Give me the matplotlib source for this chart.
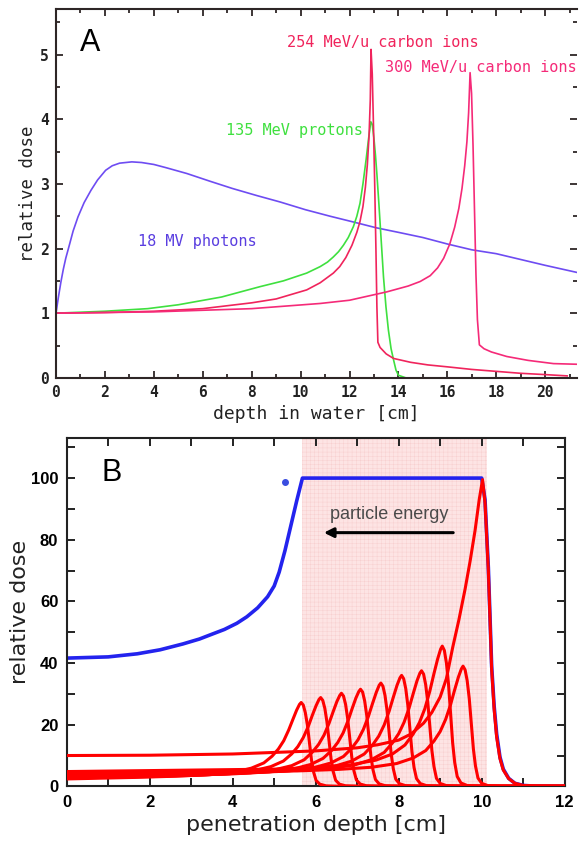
import matplotlib
matplotlib.use('Agg')
import matplotlib.pyplot as plt
from matplotlib.ticker import MultipleLocator

plt.rcParams['hatch.linewidth'] = 0.35

# ---------------- Panel A data ----------------
photon_x = [0, 0.1, 0.2, 0.3, 0.4, 0.53, 0.7, 0.9, 1.15, 1.43, 1.7, 2.03, 2.3, 2.6, 3.1, 3.5, 4.0,
            4.5, 5.35, 6.3, 7.2, 8.2, 9.16, 10.2, 11.2, 12.16, 13.1, 14, 15, 16, 17, 18, 19, 20, 21.3]
photon_y = [1.0, 1.25, 1.48, 1.68, 1.85, 2.03, 2.27, 2.49, 2.71, 2.9, 3.06, 3.21, 3.28, 3.32, 3.34, 3.33, 3.3,
            3.25, 3.16, 3.04, 2.93, 2.82, 2.72, 2.6, 2.5, 2.41, 2.32, 2.25, 2.17, 2.07, 1.98, 1.92, 1.83, 1.74, 1.63]

proton_x = [0, 2, 3.75, 5, 6.77, 8.34, 9.3, 10.25, 10.8, 11.1, 11.34, 11.55, 11.75, 11.95, 12.16, 12.3,
            12.43, 12.55, 12.68, 12.78, 12.87, 12.93, 13.0, 13.06, 13.12, 13.2, 13.3, 13.39, 13.49, 13.59,
            13.7, 13.8, 13.9, 14.0, 14.3]
proton_y = [1.0, 1.03, 1.07, 1.13, 1.25, 1.41, 1.5, 1.62, 1.72, 1.79, 1.87, 1.95, 2.05, 2.17, 2.34, 2.5,
            2.7, 3.0, 3.38, 3.7, 3.96, 3.92, 3.7, 3.45, 3.15, 2.7, 2.1, 1.56, 1.1, 0.74,
            0.45, 0.28, 0.12, 0.04, 0.0]

c254_x = [0, 2, 4, 6, 8, 9, 10.25, 10.8, 11.34, 11.6, 11.85, 12.1, 12.3, 12.43, 12.55, 12.65, 12.73,
          12.8, 12.85, 12.88, 12.93, 12.98, 13.03, 13.08, 13.12, 13.16, 13.25, 13.5, 13.8, 14.5, 15.2,
          16, 17, 18, 19, 20, 20.9]
c254_y = [1.0, 1.01, 1.03, 1.07, 1.16, 1.22, 1.36, 1.47, 1.62, 1.72, 1.86, 2.05, 2.25, 2.42, 2.65, 2.95, 3.3,
          3.75, 4.3, 5.08, 4.7, 3.9, 3.0, 2.0, 1.1, 0.55, 0.47, 0.37, 0.3, 0.24, 0.2,
          0.17, 0.13, 0.1, 0.07, 0.05, 0.03]

c300_x = [0, 4, 8, 10.8, 12, 13.53, 14.4, 14.89, 15.3, 15.6, 15.85, 16.1, 16.3, 16.47, 16.6, 16.71,
          16.8, 16.87, 16.93, 16.99, 17.05, 17.11, 17.17, 17.23, 17.31, 17.5, 17.8, 18.43, 19.3, 20.34, 21.3]
c300_y = [1.0, 1.02, 1.07, 1.15, 1.2, 1.33, 1.42, 1.49, 1.58, 1.7, 1.85, 2.07, 2.33, 2.62, 2.93, 3.28,
          3.65, 4.1, 4.72, 4.4, 3.6, 2.6, 1.6, 0.9, 0.51, 0.45, 0.4, 0.33, 0.27, 0.22, 0.21]

# ---------------- Panel B data ----------------
sobp_x = [0, 1, 1.7, 2.25, 2.8, 3.2, 3.45, 3.8, 4.1, 4.34, 4.6, 4.84, 5.0, 5.12, 5.26, 5.4, 5.54, 5.68,
          10.0, 10.08, 10.16, 10.24, 10.3, 10.36, 10.44, 10.52, 10.65, 10.8, 11.0, 11.3, 12.0]
sobp_y = [41.6, 42.0, 43.0, 44.3, 46.2, 47.8, 49.1, 50.9, 52.9, 55.0, 57.9, 61.5, 65.0, 69.5, 76.5, 84.5, 92.5, 100,
          100, 93, 71, 39, 26, 17, 9.5, 5.6, 2.6, 1.0, 0.3, 0.05, 0.0]
sobp_dot = (5.26, 98.8)

bragg_x = [
    [0, 1.65, 2.65, 3.45, 4.05, 4.45, 4.75, 4.95, 5.10, 5.23, 5.35, 5.45, 5.54, 5.61, 5.65, 5.70, 5.75, 5.80, 5.85, 5.90, 5.95, 6.01, 6.10, 6.25, 6.55, 12],
    [0, 2.12, 3.12, 3.92, 4.52, 4.92, 5.22, 5.42, 5.57, 5.70, 5.82, 5.92, 6.01, 6.08, 6.12, 6.17, 6.22, 6.27, 6.32, 6.37, 6.42, 6.48, 6.57, 6.72, 7.02, 12],
    [0, 2.62, 3.62, 4.42, 5.02, 5.42, 5.72, 5.92, 6.07, 6.20, 6.32, 6.42, 6.51, 6.58, 6.62, 6.67, 6.72, 6.77, 6.82, 6.87, 6.92, 6.98, 7.07, 7.22, 7.52, 12],
    [0, 3.08, 4.08, 4.88, 5.48, 5.88, 6.18, 6.38, 6.53, 6.66, 6.78, 6.88, 6.97, 7.04, 7.08, 7.13, 7.18, 7.23, 7.28, 7.33, 7.38, 7.44, 7.53, 7.68, 7.98, 12],
    [0, 3.57, 4.57, 5.37, 5.97, 6.37, 6.67, 6.87, 7.02, 7.15, 7.27, 7.37, 7.46, 7.53, 7.57, 7.62, 7.67, 7.72, 7.77, 7.82, 7.87, 7.93, 8.02, 8.17, 8.47, 12],
    [0, 4.07, 5.07, 5.87, 6.47, 6.87, 7.17, 7.37, 7.52, 7.65, 7.77, 7.87, 7.96, 8.03, 8.07, 8.12, 8.17, 8.22, 8.27, 8.32, 8.37, 8.43, 8.52, 8.67, 8.97, 12],
    [0, 4.55, 5.55, 6.35, 6.95, 7.35, 7.65, 7.85, 8.00, 8.13, 8.25, 8.35, 8.44, 8.51, 8.55, 8.60, 8.65, 8.70, 8.75, 8.80, 8.85, 8.91, 9.00, 9.15, 9.45, 12],
    [0, 5.05, 6.05, 6.85, 7.45, 7.85, 8.15, 8.35, 8.50, 8.63, 8.75, 8.85, 8.94, 9.01, 9.05, 9.10, 9.15, 9.20, 9.25, 9.30, 9.35, 9.41, 9.50, 9.65, 9.95, 12],
    [0, 5.55, 6.55, 7.35, 7.95, 8.35, 8.65, 8.85, 9.00, 9.13, 9.25, 9.35, 9.44, 9.51, 9.55, 9.60, 9.65, 9.70, 9.75, 9.80, 9.85, 9.91, 10.00, 10.15, 10.45, 12],
    [0, 2, 4, 5, 6, 7, 7.5, 8.0, 8.3, 8.6, 8.8, 9.0, 9.15, 9.3, 9.45, 9.6, 9.72, 9.84, 9.94, 10.02,
     10.08, 10.16, 10.24, 10.3, 10.36, 10.44, 10.52, 10.65, 10.8, 11.0, 11.3, 12],
]
bragg_y = [
    [2.4, 2.9, 3.3, 3.8, 4.6, 5.9, 7.6, 9.8, 12.1, 14.8, 18.3, 21.7, 24.7, 26.6, 27.2, 26.4, 23.9, 19.9, 14.1, 8.4, 4.6, 1.9, 0.7, 0.16, 0.03, 0],
    [2.7, 3.2, 3.6, 4.1, 5.1, 6.4, 8.2, 10.5, 12.9, 15.8, 19.4, 23.1, 26.2, 28.2, 28.8, 27.9, 25.3, 21.0, 15.0, 8.9, 4.9, 2.0, 0.72, 0.17, 0.03, 0],
    [2.9, 3.5, 3.9, 4.4, 5.4, 6.7, 8.6, 11.1, 13.6, 16.6, 20.4, 24.2, 27.5, 29.5, 30.2, 29.3, 26.6, 22.0, 15.7, 9.4, 5.1, 2.1, 0.76, 0.18, 0.03, 0],
    [3.1, 3.7, 4.1, 4.7, 5.7, 7.1, 9.1, 11.6, 14.2, 17.3, 21.3, 25.3, 28.7, 30.8, 31.5, 30.6, 27.7, 23.0, 16.4, 9.8, 5.4, 2.2, 0.79, 0.19, 0.03, 0],
    [3.4, 4.0, 4.5, 5.1, 6.1, 7.6, 9.7, 12.4, 15.1, 18.5, 22.7, 26.9, 30.5, 32.8, 33.5, 32.5, 29.5, 24.5, 17.4, 10.4, 5.7, 2.3, 0.84, 0.2, 0.03, 0],
    [3.7, 4.4, 4.8, 5.5, 6.6, 8.2, 10.5, 13.4, 16.3, 19.9, 24.4, 28.9, 32.8, 35.2, 36.0, 34.9, 31.7, 26.3, 18.7, 11.2, 6.1, 2.5, 0.9, 0.22, 0.04, 0],
    [4.0, 4.7, 5.2, 5.8, 7.0, 8.7, 11.0, 14.1, 17.1, 20.8, 25.4, 30.1, 34.2, 36.7, 37.5, 36.4, 33.0, 27.4, 19.5, 11.6, 6.4, 2.6, 0.94, 0.23, 0.04, 0],
    [4.8, 5.6, 6.2, 7.0, 8.5, 10.5, 13.4, 17.0, 20.7, 25.2, 30.9, 36.6, 41.4, 44.5, 45.5, 44.1, 40.0, 33.2, 23.7, 14.1, 7.7, 3.2, 1.1, 0.27, 0.05, 0],
    [4.3, 5.0, 5.5, 6.2, 7.4, 9.2, 11.6, 14.7, 17.8, 21.7, 26.5, 31.4, 35.5, 38.1, 39.0, 37.8, 34.3, 28.5, 20.3, 12.1, 6.6, 2.7, 0.98, 0.23, 0.04, 0],
    [10.0, 10.1, 10.5, 11.0, 11.5, 12.5, 13.5, 15.0, 17.0, 20.5, 24.0, 29.0, 35.0, 45.0, 54.0, 64.0, 73.0, 83.0, 93.0, 99.5,
     92.0, 70.0, 38.0, 25.0, 16.0, 9.0, 5.3, 2.5, 1.0, 0.3, 0.05, 0],
]
spread_region = (5.67, 10.12)

# colours
C_PHOTON = '#6e4cf2'
C_PROTON = '#3fe03f'
C_C254 = '#f0245c'
C_C300 = '#f52a78'
SPINE = '#2e2626'

fig = plt.figure(figsize=(5.79, 8.43), dpi=100)

# ================= Panel A =================
axA = fig.add_axes([0.0967, 0.5518, 0.9965 - 0.0967, 0.989 - 0.5518])
axA.plot(photon_x, photon_y, color=C_PHOTON, lw=1.2)
axA.plot(proton_x, proton_y, color=C_PROTON, lw=1.2)
axA.plot(c254_x, c254_y, color=C_C254, lw=1.2)
axA.plot(c300_x, c300_y, color=C_C300, lw=1.2)
axA.set_xlim(0, 21.3)
axA.set_ylim(0, 5.7)
axA.xaxis.set_major_locator(MultipleLocator(2))
axA.xaxis.set_minor_locator(MultipleLocator(1))
axA.yaxis.set_major_locator(MultipleLocator(1))
axA.yaxis.set_minor_locator(MultipleLocator(0.5))
axA.tick_params(which='both', direction='in', top=True, right=True, color=SPINE, width=1.3)
axA.tick_params(which='major', length=5, labelsize=10.5, pad=5, labelcolor='#222222')
axA.tick_params(which='minor', length=3)
for lab in axA.get_xticklabels() + axA.get_yticklabels():
    lab.set_fontweight('bold')
    lab.set_family('DejaVu Sans Mono')
for s in ['left', 'bottom', 'top']:
    axA.spines[s].set_color(SPINE)
    axA.spines[s].set_linewidth(1.5)
axA.spines['right'].set_visible(False)
monoA = 'DejaVu Sans Mono'
axA.set_xlabel('depth in water [cm]', fontsize=13, family=monoA, color='#222222', labelpad=4)
axA.set_ylabel('relative dose', fontsize=12.5, family=monoA, color='#222222')
axA.yaxis.set_label_coords(-0.036, 0.5)
axA.text(0.97, 5.05, 'A', fontsize=22, family='Liberation Sans', color='black')
axA.text(9.44, 5.11, '254 MeV/u carbon ions', fontsize=11, family=monoA, color=C_C254)
axA.text(13.45, 4.73, '300 MeV/u carbon ions', fontsize=11, family=monoA, color=C_C300)
axA.text(6.95, 3.75, '135 MeV protons', fontsize=11, family=monoA, color=C_PROTON)
axA.text(3.37, 2.04, '18 MV photons', fontsize=11, family=monoA, color='#5a3ee0')

# ================= Panel B =================
axB = fig.add_axes([0.1152, 0.0672, 0.9753 - 0.1152, 0.4804 - 0.0672])
axB.axvspan(spread_region[0], spread_region[1], facecolor='#fde4e4', edgecolor='#f8d0d0',
            hatch='++++', linewidth=0, zorder=0)
axB.plot(sobp_x, sobp_y, color='#2323ee', lw=2.6, zorder=2)
axB.plot([sobp_dot[0]], [sobp_dot[1]], 'o', color='#3a4de0', ms=4, zorder=2)
for bx, by in zip(bragg_x, bragg_y):
    axB.plot(bx, by, color='#ff0000', lw=2.2, zorder=3)
axB.set_xlim(0, 12)
axB.set_ylim(0, 113)
axB.xaxis.set_major_locator(MultipleLocator(2))
axB.xaxis.set_minor_locator(MultipleLocator(1))
axB.yaxis.set_major_locator(MultipleLocator(20))
axB.yaxis.set_minor_locator(MultipleLocator(10))
axB.tick_params(which='both', direction='in', top=True, right=True, color='#222222', width=1.4)
axB.tick_params(which='major', length=6, labelsize=12, pad=6)
axB.tick_params(which='minor', length=6)
for lab in axB.get_xticklabels() + axB.get_yticklabels():
    lab.set_fontweight('bold')
    lab.set_family(['Liberation Sans Narrow', 'Liberation Sans', 'DejaVu Sans'])
for s in axB.spines.values():
    s.set_color('#222222')
    s.set_linewidth(1.5)
axB.set_xlabel('penetration depth [cm]', fontsize=16, color='#222222', labelpad=4)
axB.set_ylabel('relative dose', fontsize=16, color='#222222')
axB.yaxis.set_label_coords(-0.074, 0.5)
axB.text(0.84, 101.5, 'B', fontsize=22, family='Liberation Sans', color='black', va='center')
axB.text(7.77, 88.3, 'particle energy', fontsize=13, family='Liberation Sans', color='#4a4a4a',
         ha='center', va='center')
axB.annotate('', xy=(6.13, 82.3), xytext=(9.38, 82.3),
             arrowprops=dict(arrowstyle='-|>', color='black', lw=2.2, mutation_scale=14))

fig.savefig('out.png', dpi=100)
